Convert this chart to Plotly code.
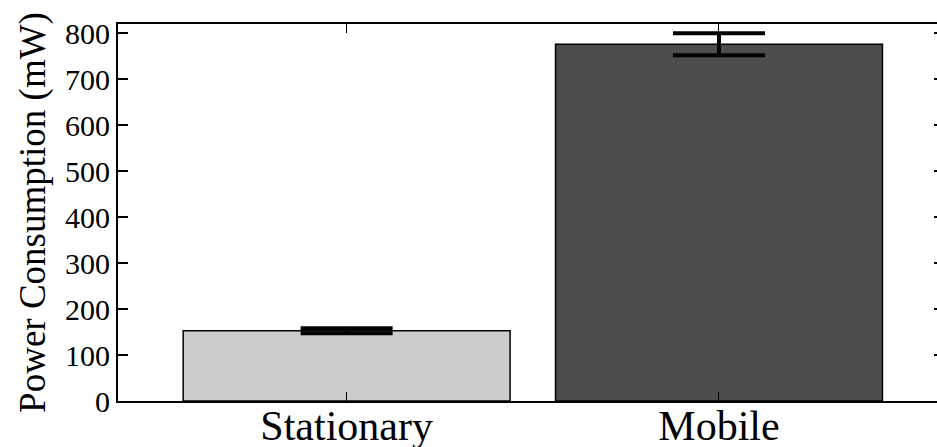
import plotly.graph_objects as go

# Mean power draw per deployment mode, with error half-widths
categories = ["Stationary", "Mobile"]
power_mw = [153, 776]
power_err = [5.5, 24]
bar_colors = ["#cccccc", "#4d4d4d"]
y_ticks = [0, 100, 200, 300, 400, 500, 600, 700, 800]

FONT = "Liberation Serif"

fig = go.Figure()
fig.add_trace(go.Bar(
    x=list(range(len(categories))),
    y=power_mw,
    width=0.878,
    marker=dict(color=bar_colors, line=dict(color="black", width=1.5)),
    error_y=dict(type="data", array=power_err, visible=True,
                 color="black", thickness=4, width=46),
    showlegend=False,
    hoverinfo="skip",
))
# invisible trace carrying the right-hand inward ticks
fig.add_trace(go.Scatter(x=[0], y=[0], yaxis="y2", mode="markers",
                         marker=dict(opacity=0), showlegend=False,
                         hoverinfo="skip"))

fig.update_layout(
    width=937, height=447,
    margin=dict(l=118, r=0, t=24, b=46),
    paper_bgcolor="white", plot_bgcolor="white",
    font=dict(family=FONT, color="black"),
    xaxis=dict(
        range=[-0.614, 1.5855],
        tickmode="array",
        tickvals=list(range(len(categories))),
        ticktext=categories,
        tickfont=dict(size=42, family=FONT, color="black"),
        ticks="inside", ticklen=9, tickwidth=1, tickcolor="black",
        showline=True, linecolor="black", linewidth=2, mirror="ticks",
        showgrid=False, zeroline=False, automargin=False,
        ticklabelstandoff=-13,
    ),
    yaxis=dict(
        range=[0, 820],
        tickmode="array", tickvals=y_ticks,
        tickfont=dict(size=30, family=FONT, color="black"),
        ticks="inside", ticklen=10, tickwidth=1.5, tickcolor="black",
        showline=True, linecolor="black", linewidth=2, mirror=False,
        showgrid=False, zeroline=False, automargin=False,
        title=dict(text="Power Consumption (mW)",
                   font=dict(size=37, family=FONT, color="black"), standoff=8),
    ),
    yaxis2=dict(
        overlaying="y", side="right", matches="y", anchor="x",
        tickmode="array", tickvals=y_ticks,
        ticks="inside", ticklen=3, tickwidth=1.5, tickcolor="black",
        showticklabels=False, showline=False, showgrid=False,
        zeroline=False, automargin=False,
    ),
)

fig.write_html("out.html")
